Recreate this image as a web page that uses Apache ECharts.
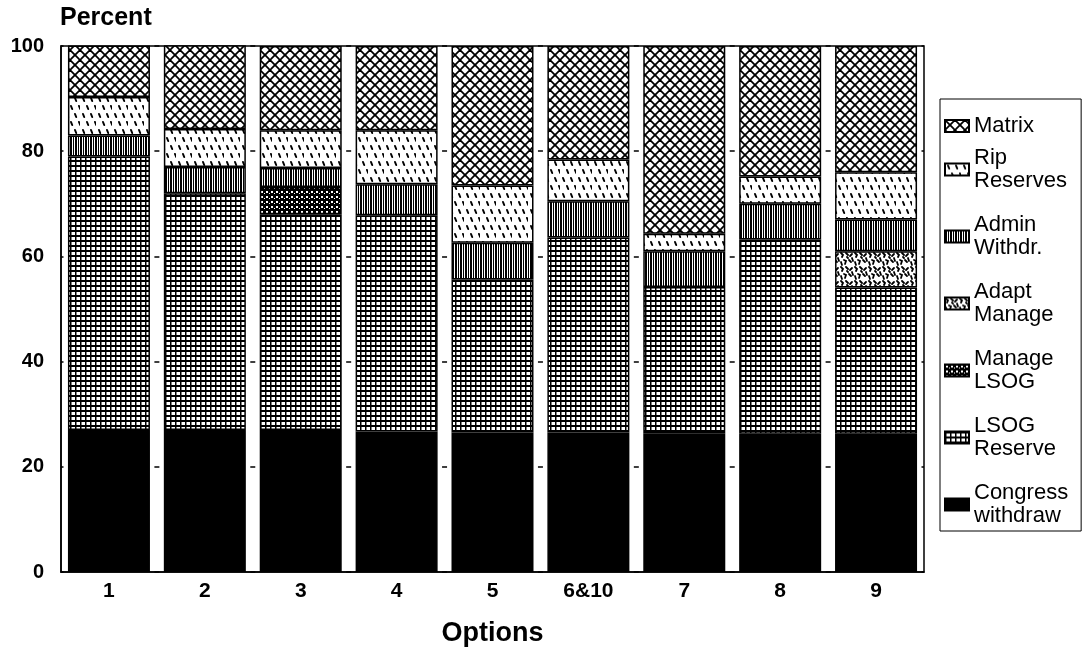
<!DOCTYPE html>
<html><head><meta charset="utf-8">
<script src="https://cdn.jsdelivr.net/npm/echarts@6/dist/echarts.min.js"></script>
<style>html,body{margin:0;padding:0;background:#fff}#c{width:1083px;height:656px}</style>
</head><body><div id="c"></div>
<script>
// ---- data (bottom of stack first) ----
const categories = ['1', '2', '3', '4', '5', '6&10', '7', '8', '9'];
const congressWithdraw = [27, 27, 27, 26.7, 26.5, 26.5, 26.4, 26.3, 26.3];
const lsogReserve      = [52, 45, 41, 41.1, 29.1, 37.1, 27.8, 36.9, 27.8];
const manageLsog       = [null, null, 5.2, null, null, null, null, null, null];
const adaptManage      = [null, null, null, null, null, null, null, null, 6.9];
const adminWithdr      = [4, 5, 3.6, 5.9, 7, 6.9, 6.8, 6.8, 6];
const ripReserves      = [7.3, 7.2, 7.2, 10.3, 10.9, 7.9, 3.3, 5.2, 9];
const matrix           = [9.8, 16, 16, 16, 26.5, 21.6, 35.7, 24.8, 24];
const yTicks = [0, 20, 40, 60, 80, 100];
const seriesNames = ['Congress\nwithdraw', 'LSOG\nReserve', 'Manage\nLSOG', 'Adapt\nManage', 'Admin\nWithdr.', 'Rip\nReserves', 'Matrix'];

// ---- hatch patterns ----
function tile(w, h, bg, draw) {
  const c = document.createElement('canvas');
  c.width = w; c.height = h;
  const g = c.getContext('2d');
  g.fillStyle = bg; g.fillRect(0, 0, w, h);
  g.fillStyle = '#000'; g.strokeStyle = '#000';
  draw(g, w, h);
  return { image: c, repeat: 'repeat' };
}
const patMatrix = tile(10, 10, '#fff', (g) => {
  g.lineWidth = 1.8;
  for (const k of [-10, 0, 10]) {
    g.beginPath(); g.moveTo(-2, -2 + k); g.lineTo(12, 12 + k); g.stroke();
    g.beginPath(); g.moveTo(12, -2 + k); g.lineTo(-2, 12 + k); g.stroke();
  }
});
const patRip = tile(16, 16, '#fff', (g) => {
  g.lineWidth = 2; g.lineCap = 'round';
  for (const [x, y] of [[3, 2], [11, 2], [7, 10], [15, 10]]) {
    g.beginPath(); g.moveTo(x, y); g.lineTo(x + 1.2, y + 3); g.stroke();
  }
});
const patAdmin = tile(5, 4, '#fff', (g) => {
  g.fillRect(0, 0, 2, 4); g.fillRect(3, 0, 1, 4);
});
const patAdapt = tile(14, 14, '#fff', (g) => {
  g.lineWidth = 1.8; g.lineCap = 'round';
  const paths = [[[1,1],[3,3],[2,5]], [[6,1],[8,3]], [[10,4],[12,2]], [[4,8],[6,9],[5,12]],
                 [[9,8],[11,10]], [[12,6],[13,9]], [[1,10],[2,13]], [[7,5],[8,6]]];
  for (const p of paths) {
    g.beginPath(); g.moveTo(p[0][0], p[0][1]);
    for (let i = 1; i < p.length; i++) g.lineTo(p[i][0], p[i][1]);
    g.stroke();
  }
});
const patManage = tile(5, 5, '#000', (g) => {
  g.fillStyle = '#fff'; g.fillRect(1, 1, 2, 2); g.fillRect(4, 3, 1, 1);
});
const patLsog = tile(5, 5, '#fff', (g) => {
  g.fillRect(0, 0, 5, 2); g.fillRect(0, 0, 1.5, 5);
});
const fills = ['#000', patLsog, patManage, patAdapt, patAdmin, patRip, patMatrix];
const values = [congressWithdraw, lsogReserve, manageLsog, adaptManage, adminWithdr, ripReserves, matrix];

const FONT = "'Liberation Sans', Arial, sans-serif";
const plotW = 1083 - 61 - 159;
const catW = plotW / categories.length;

const chart = echarts.init(document.getElementById('c'));
const L = 23;
chart.setOption({
  animation: false,
  backgroundColor: '#fff',
  title: {
    text: 'Percent', left: 60, top: 6, padding: 0,
    textStyle: { fontFamily: FONT, fontSize: 25, fontWeight: 'bold', color: '#000' }
  },
  grid: { left: 61, right: 159, top: 46, bottom: 84, show: true, borderColor: '#000', borderWidth: 1.5, backgroundColor: 'transparent' },
  legend: {
    orient: 'vertical', left: 940, top: 99, selectedMode: false,
    padding: [16, 13, -8, 4],
    borderColor: '#000', borderWidth: 1,
    itemWidth: 24, itemHeight: 12, itemGap: -2, icon: 'rect',
    textStyle: { fontFamily: FONT, fontSize: 22, color: '#000', lineHeight: L },
    data: seriesNames.slice().reverse().map(n => ({
      name: n,
      textStyle: n.indexOf('\n') >= 0 ? { padding: [L, 0, 0, 0] } : { padding: [-4, 0, -4, 0] }
    }))
  },
  xAxis: {
    type: 'category', data: categories,
    axisLine: { lineStyle: { color: '#000', width: 1.5 } },
    axisTick: { show: false },
    axisLabel: { color: '#000', fontFamily: FONT, fontSize: 21, fontWeight: 'bold', margin: 9 },
    name: 'Options', nameLocation: 'middle', nameGap: 48,
    nameTextStyle: { color: '#000', fontFamily: FONT, fontSize: 27, fontWeight: 'bold' }
  },
  yAxis: {
    type: 'value', min: yTicks[0], max: yTicks[yTicks.length - 1], interval: yTicks[1] - yTicks[0],
    axisLine: { show: true, lineStyle: { color: '#000', width: 1.5 } },
    axisTick: { show: false },
    axisLabel: { color: '#000', fontFamily: FONT, fontSize: 20, fontWeight: 'bold', margin: 17 },
    splitLine: { show: true, lineStyle: { color: '#000', width: 1.5, type: [5, catW - 5], dashOffset: 2.5 } }
  },
  series: seriesNames.map((n, i) => ({
    name: n, type: 'bar', stack: 'all', barWidth: 82,
    data: values[i],
    itemStyle: { color: fills[i], borderColor: '#000', borderWidth: 1.5 },
    emphasis: { disabled: true }
  }))
});
</script></body></html>
